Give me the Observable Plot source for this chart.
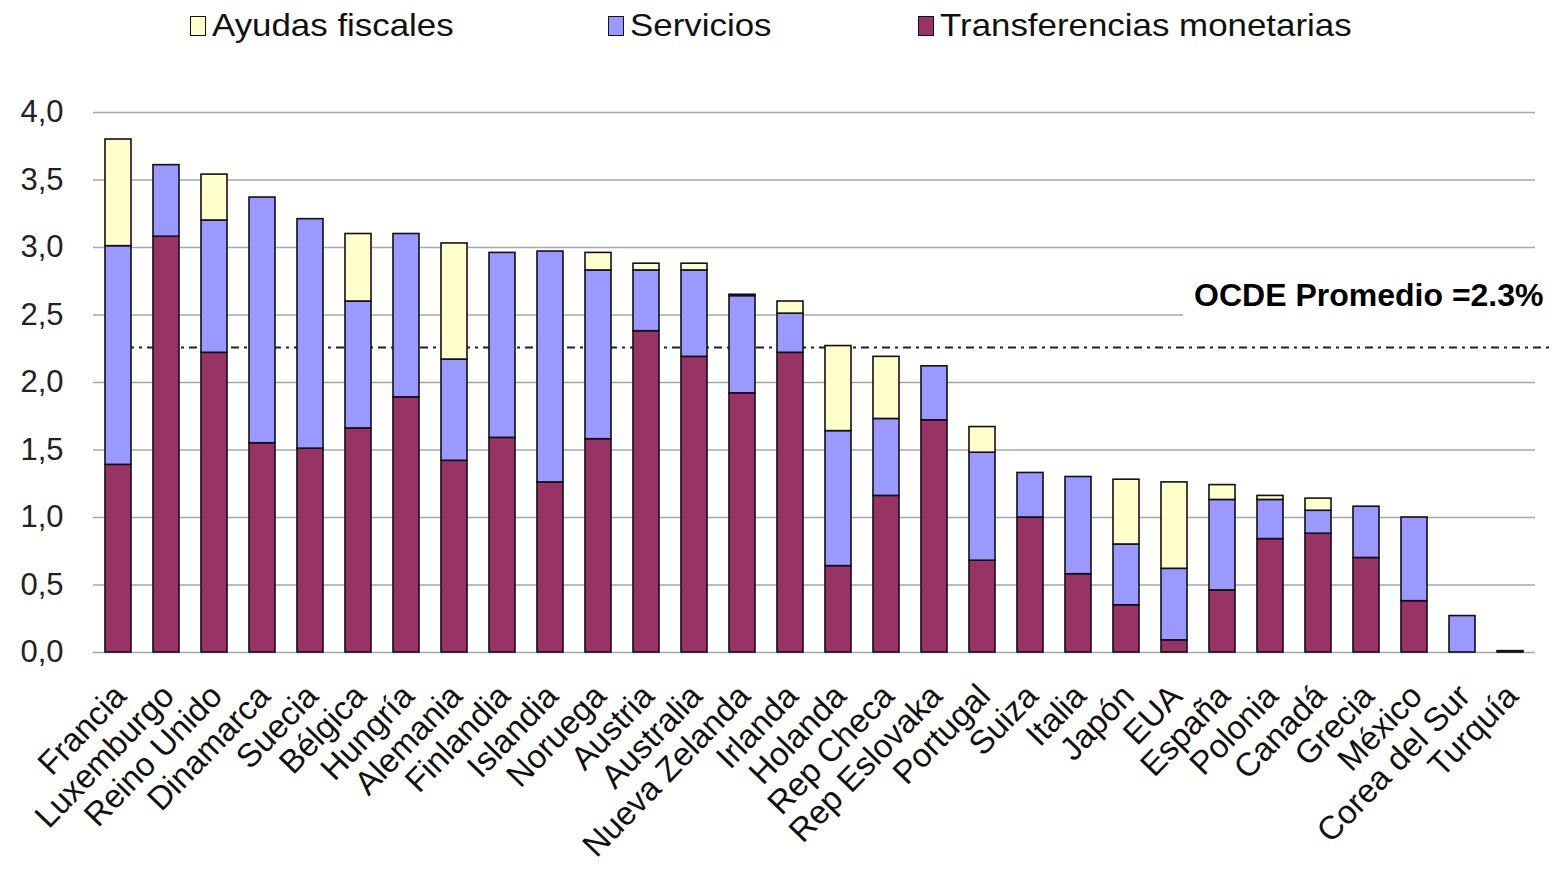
<!DOCTYPE html>
<html><head><meta charset="utf-8">
<script src="https://cdn.jsdelivr.net/npm/d3@7"></script>
<script src="https://cdn.jsdelivr.net/npm/@observablehq/plot@0.6"></script>
<style>
html,body{margin:0;padding:0;background:#fff;overflow:hidden;}
body{font-family:"Liberation Sans",Arial,sans-serif;}
#legend{position:relative;height:60px;width:1557px;}
.li{position:absolute;top:7px;display:flex;align-items:center;font-size:32px;color:#111;white-space:nowrap;}
.li .tx{display:inline-block;transform:scaleX(1.09);transform-origin:left center;}
.sw{width:16px;height:20px;border:1.5px solid #111;margin-right:6px;box-sizing:border-box;}
#chart svg{display:block;}
</style></head><body>
<div id="legend"></div>
<div id="chart"></div>
<script>
const countries = ["Francia","Luxemburgo","Reino Unido","Dinamarca","Suecia","Bélgica","Hungría","Alemania","Finlandia","Islandia","Noruega","Austria","Australia","Nueva Zelanda","Irlanda","Holanda","Rep Checa","Rep Eslovaka","Portugal","Suiza","Italia","Japón","EUA","España","Polonia","Canadá","Grecia","México","Corea del Sur","Turquía"];
const transferencias = [1.39,3.08,2.22,1.55,1.51,1.66,1.89,1.42,1.59,1.26,1.58,2.38,2.19,1.92,2.22,0.64,1.16,1.72,0.68,1.00,0.58,0.35,0.09,0.46,0.84,0.88,0.70,0.38,0.00,0.01];
const servicios      = [1.62,0.53,0.98,1.82,1.70,0.94,1.21,0.75,1.37,1.71,1.25,0.45,0.64,0.72,0.29,1.00,0.57,0.40,0.80,0.33,0.72,0.45,0.53,0.67,0.29,0.17,0.38,0.62,0.27,0.00];
const ayudas         = [0.79,0.00,0.34,0.00,0.00,0.50,0.00,0.86,0.00,0.00,0.13,0.05,0.05,0.01,0.09,0.63,0.46,0.00,0.19,0.00,0.00,0.48,0.64,0.11,0.03,0.09,0.00,0.00,0.00,0.00];
const seriesNames  = ["Transferencias monetarias","Servicios","Ayudas fiscales"];
const seriesColors = ["#993366","#9999FF","#FFFFCC"];
const legendOrder  = ["Ayudas fiscales","Servicios","Transferencias monetarias"];
const legendLeft   = [190, 608, 918];
const yTicks = [0,0.5,1,1.5,2,2.5,3,3.5,4];
const ocdeAvg = 2.26;
const ocdeLabel = "OCDE Promedio =2.3%";

// legend
const leg = document.getElementById("legend");
legendOrder.forEach((name, i) => {
  const item = document.createElement("div");
  item.className = "li";
  item.style.left = legendLeft[i] + "px";
  const sw = document.createElement("span");
  sw.className = "sw";
  sw.style.background = seriesColors[seriesNames.indexOf(name)];
  const t = document.createElement("span");
  t.className = "tx";
  t.textContent = name;
  item.appendChild(sw); item.appendChild(t);
  leg.appendChild(item);
});

const seriesValues = [transferencias, servicios, ayudas];
const table = [];
countries.forEach((c, i) => {
  seriesNames.forEach((s, k) => {
    const v = seriesValues[k][i];
    if (v > 0) table.push({country: c, series: s, value: v});
  });
});

const chart = Plot.plot({
  width: 1557, height: 810,
  marginTop: 52, marginBottom: 218, marginLeft: 93, marginRight: 22,
  style: {fontFamily: "'Liberation Sans', Arial, sans-serif", background: "white", color: "#111"},
  x: {domain: countries, paddingInner: 0.46, paddingOuter: 0.23, label: null},
  y: {domain: [0, 4], label: null},
  color: {domain: seriesNames, range: seriesColors},
  marks: [
    Plot.gridY(yTicks, {stroke: "#a8a8a8", strokeOpacity: 1, strokeWidth: 1.5}),
    Plot.ruleY([2.5], {stroke: "white", strokeWidth: 4, insetLeft: 1090}),
    Plot.ruleY([ocdeAvg], {stroke: "#222", strokeWidth: 2, strokeDasharray: "8,5,3,5", insetLeft: 12, insetRight: -18}),
    Plot.barY(table, Plot.stackY({x: "country", y: "value", fill: "series", order: seriesNames, stroke: "#111", strokeWidth: 1.6})),
    Plot.axisY(yTicks, {tickSize: 0, tickPadding: 30, fontSize: 31, fill: "#222", label: null,
      tickFormat: d => d.toFixed(1).replace(".", ",")}),
    Plot.axisX({tickSize: 0, tickRotate: -46, tickPadding: 38, dx: 2, fontSize: 33, fill: "#111", label: null}),
    Plot.text([ocdeLabel], {text: d => d, y: () => ocdeAvg, frameAnchor: "right", textAnchor: "end",
      dx: 8, dy: -52, fontSize: 32, fontWeight: "bold", fill: "#000"})
  ]
});
document.getElementById("chart").appendChild(chart);
</script>
</body></html>
